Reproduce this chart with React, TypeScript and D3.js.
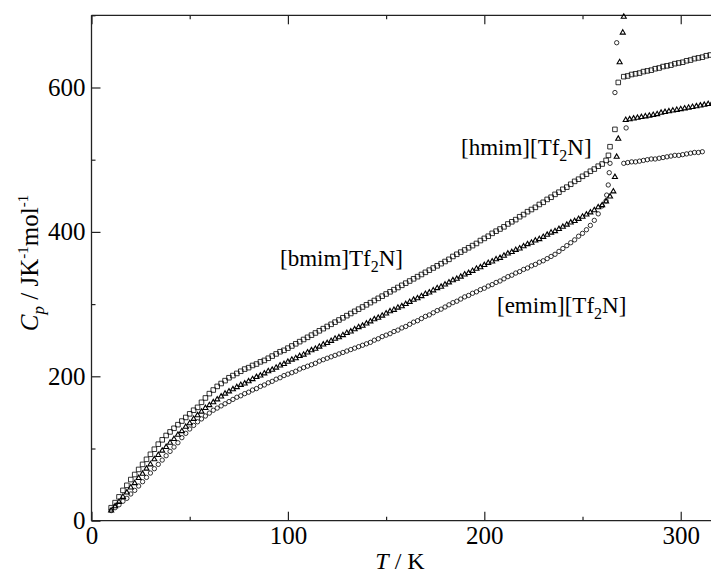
import React, { useEffect, useRef } from 'react';
import * as d3 from 'd3';

// Heat capacity of three imidazolium Tf2N ionic liquids.
// Temperatures (K) of the low-temperature points, shared by all three salts
const solidT = [
  10, 12, 14, 16, 18, 20, 22, 24, 26, 28, 30, 32, 34, 36, 38, 40, 42, 44, 46, 48,
  50, 52, 54, 56, 58, 60, 62, 64, 66, 68, 70, 72, 74, 76, 78, 80, 82, 84, 86, 88,
  90, 92, 94, 96, 98, 100, 102, 104, 106, 108, 110, 112, 114, 116, 118, 120, 122, 124, 126, 128,
  130, 132, 134, 136, 138, 140, 142, 144, 146, 148, 150, 152, 154, 156, 158, 160, 162, 164, 166, 168,
  170, 172, 174, 176, 178, 180, 182, 184, 186, 188, 190, 192, 194, 196, 198, 200, 202, 204, 206, 208,
  210, 212, 214, 216, 218, 220, 222, 224, 226, 228, 230, 232, 234, 236, 238, 240, 242, 244, 246, 248,
  250, 252, 254, 256, 258, 260, 262,
];

// Cp / J K-1 mol-1 at solidT
const hmimSolid = [
  18, 25, 33, 42, 49, 57, 64, 71, 78, 85, 92, 99, 106, 112, 118, 123, 128, 133, 138, 143,
  148, 153, 157, 164, 170, 176, 181, 186, 190, 194, 198, 201, 204, 207, 210, 212, 215, 217, 220, 222,
  225, 228, 231, 234, 236, 239, 242, 245, 248, 251, 254, 257, 260, 263, 266, 269, 272, 275, 278, 281,
  284, 287, 290, 293, 296, 299, 302, 305, 308, 311, 314, 317, 320, 323, 326, 329, 332, 335, 338, 341,
  344, 347, 350, 353, 356, 359, 362, 366, 369, 372, 375, 378, 381, 384, 388, 391, 394, 398, 401, 404,
  407, 411, 414, 417, 421, 424, 428, 431, 434, 438, 441, 445, 448, 452, 455, 459, 462, 466, 470, 473,
  477, 480, 484, 487, 491, 494, 499,
];
const bmimSolid = [
  14, 20, 26, 33, 39, 46, 52, 59, 65, 72, 78, 85, 91, 97, 102, 108, 113, 119, 124, 130,
  135, 141, 146, 151, 156, 160, 164, 168, 172, 176, 179, 182, 185, 188, 190, 193, 196, 199, 201, 204,
  207, 209, 212, 215, 217, 220, 223, 225, 228, 230, 233, 236, 238, 241, 244, 246, 249, 252, 254, 257,
  260, 262, 265, 268, 270, 273, 276, 279, 281, 284, 287, 290, 292, 295, 297, 300, 303, 306, 308, 311,
  314, 316, 319, 322, 324, 327, 330, 333, 335, 338, 341, 343, 346, 349, 351, 354, 357, 359, 362, 364,
  367, 370, 372, 375, 377, 380, 383, 385, 388, 390, 393, 396, 399, 401, 404, 407, 410, 413, 415, 418,
  421, 424, 427, 430, 434, 437, 442,
];
const emimSolid = [
  14, 18, 22, 27, 31, 37, 42, 48, 54, 60, 66, 72, 78, 84, 90, 96, 102, 108, 115, 121,
  127, 132, 137, 141, 145, 149, 153, 156, 159, 162, 165, 168, 171, 173, 176, 178, 181, 183, 186, 188,
  191, 193, 196, 198, 201, 203, 205, 207, 210, 212, 214, 216, 218, 221, 223, 225, 227, 229, 231, 233,
  235, 237, 239, 241, 243, 245, 247, 250, 252, 255, 257, 259, 262, 264, 267, 269, 272, 275, 277, 280,
  283, 285, 288, 291, 293, 296, 299, 302, 304, 307, 310, 312, 315, 317, 320, 322, 325, 327, 330, 332,
  335, 338, 340, 343, 345, 348, 350, 353, 355, 358, 360, 363, 366, 369, 373, 377, 381, 385, 389, 394,
  398, 403, 409, 416, 425, 436, 443,
];

// points through the melting peak
const hmimPeakT = [263.2, 264.0, 266.5, 268.2];
const hmimPeakCp = [506, 518, 542, 607];
const bmimPeakT = [264.0, 265.7, 266.5, 267.4, 268.2, 268.9, 270.5, 271.0];
const bmimPeakCp = [449, 456, 476, 504, 529, 635, 676, 698];
const emimPeakT = [262.3, 263.1, 263.6, 264.0, 266.5, 267.4, 272.2];
const emimPeakCp = [451, 465, 482, 495, 593, 662, 544];

// liquid
const hmimLiqT = [271, 273, 275, 277, 279, 281, 283, 285, 287, 289, 291, 293, 295, 297, 299, 301, 303, 305, 307, 309, 311, 313, 315, 317];
const hmimLiqCp = [615, 616, 618, 619, 620, 622, 623, 624, 626, 627, 629, 630, 631, 633, 634, 635, 637, 638, 640, 641, 642, 644, 645, 646];
const bmimLiqT = [272, 274, 276, 278, 280, 282, 284, 286, 288, 290, 292, 294, 296, 298, 300, 302, 304, 306, 308, 310, 312, 314, 316];
const bmimLiqCp = [555, 556, 557, 558, 559, 560, 561, 562, 563, 565, 566, 567, 568, 569, 570, 571, 572, 573, 574, 575, 576, 577, 578];
const emimLiqT = [271, 273, 275, 277, 279, 281, 283, 285, 287, 289, 291, 293, 295, 297, 299, 301, 303, 305, 307, 309, 311];
const emimLiqCp = [495, 496, 497, 497, 498, 499, 500, 501, 501, 502, 503, 504, 505, 506, 506, 507, 508, 509, 510, 510, 511];

const xMajor = [0, 100, 200, 300];
const xMinor = [50, 150, 250];
const yMajor = [0, 200, 400, 600];
const yMinor = [100, 300, 500, 700];

const FONT = '"Liberation Serif", "Times New Roman", serif';

const pts = (ts: number[], cps: number[]) => ts.map((t, i) => [t, cps[i]]);

const series = [
  {
    key: 'hmim',
    symbol: d3.symbolSquare,
    size: 21,
    stroke: 0.8,
    points: [...pts(solidT, hmimSolid), ...pts(hmimPeakT, hmimPeakCp), ...pts(hmimLiqT, hmimLiqCp)],
  },
  {
    key: 'bmim',
    symbol: d3.symbolTriangle,
    size: 11,
    stroke: 1.1,
    points: [...pts(solidT, bmimSolid), ...pts(bmimPeakT, bmimPeakCp), ...pts(bmimLiqT, bmimLiqCp)],
  },
  {
    key: 'emim',
    symbol: d3.symbolCircle,
    size: 15,
    stroke: 0.8,
    points: [...pts(solidT, emimSolid), ...pts(emimPeakT, emimPeakCp), ...pts(emimLiqT, emimLiqCp)],
  },
];

const App = () => {
  const svgRef = useRef<SVGSVGElement>(null);
  const width = 711;
  const height = 575;

  useEffect(() => {
    const svg = d3.select(svgRef.current);
    svg.selectAll('*').remove();

    const x = d3.scaleLinear().domain([0, 320]).range([91.5, 720]);
    const y = d3.scaleLinear().domain([0, 700]).range([520.7, 15.3]);

    const g = svg.append('g');

    // frame
    const frame = g.append('g').attr('stroke', '#222').attr('stroke-width', 1.3);
    frame.append('line').attr('x1', x(0)).attr('x2', x(0)).attr('y1', y(0)).attr('y2', y(700));
    frame.append('line').attr('x1', x(0)).attr('x2', x(320)).attr('y1', y(0)).attr('y2', y(0));
    frame.append('line').attr('x1', x(0)).attr('x2', x(320)).attr('y1', y(700)).attr('y2', y(700));

    const styleAxis = (sel: any) => {
      sel.select('.domain').remove();
      sel.selectAll('line').attr('stroke', '#222').attr('stroke-width', 1.2);
      sel.selectAll('text').attr('fill', '#000').attr('font-family', FONT).attr('font-size', 25);
    };

    // bottom
    g.append('g')
      .attr('transform', `translate(0,${y(0)})`)
      .call(d3.axisBottom(x).tickValues(xMajor).tickSize(-9).tickPadding(6).tickFormat(d3.format('d')))
      .call(styleAxis);
    g.append('g')
      .attr('transform', `translate(0,${y(0)})`)
      .call(d3.axisBottom(x).tickValues(xMinor).tickSize(-4).tickFormat(() => ''))
      .call(styleAxis);
    // top
    g.append('g')
      .attr('transform', `translate(0,${y(700)})`)
      .call(d3.axisTop(x).tickValues(xMajor).tickSize(-9).tickFormat(() => ''))
      .call(styleAxis);
    g.append('g')
      .attr('transform', `translate(0,${y(700)})`)
      .call(d3.axisTop(x).tickValues(xMinor).tickSize(-4).tickFormat(() => ''))
      .call(styleAxis);
    // left
    g.append('g')
      .attr('transform', `translate(${x(0)},0)`)
      .call(d3.axisLeft(y).tickValues(yMajor).tickSize(-9).tickPadding(6).tickFormat(d3.format('d')))
      .call(styleAxis);
    g.append('g')
      .attr('transform', `translate(${x(0)},0)`)
      .call(d3.axisLeft(y).tickValues(yMinor).tickSize(-4).tickFormat(() => ''))
      .call(styleAxis);

    // markers
    series.forEach(s => {
      const path = d3.symbol().type(s.symbol).size(s.size)();
      g.append('g')
        .selectAll('path')
        .data(s.points)
        .enter()
        .append('path')
        .attr('d', path)
        .attr('transform', d => `translate(${x(d[0])},${y(d[1])})`)
        .attr('fill', 'none')
        .attr('stroke', '#000')
        .attr('stroke-width', s.stroke);
    });

    // series labels with subscript 2
    const label = (px: number, py: number, pre: string) => {
      const t = g.append('text')
        .attr('x', px).attr('y', py)
        .attr('font-family', FONT).attr('font-size', 23).attr('fill', '#000');
      t.append('tspan').text(pre);
      t.append('tspan').attr('font-size', 16).attr('dy', 6).text('2');
      t.append('tspan').attr('dy', -6).text('N]');
    };
    label(461, 155, '[hmim][Tf');
    label(280, 266, '[bmim]Tf');
    label(497, 313, '[emim][Tf');

    // x title
    const xt = g.append('text')
      .attr('x', 400).attr('y', 569)
      .attr('text-anchor', 'middle')
      .attr('font-family', FONT).attr('font-size', 24).attr('fill', '#000');
    xt.append('tspan').attr('font-style', 'italic').text('T');
    xt.append('tspan').text(' / K');

    // y title
    const yt = g.append('text')
      .attr('transform', 'translate(38,263) rotate(-90)')
      .attr('text-anchor', 'middle')
      .attr('font-family', FONT).attr('font-size', 25).attr('fill', '#000');
    yt.append('tspan').attr('font-style', 'italic').text('C');
    yt.append('tspan').attr('font-style', 'italic').attr('font-size', 17).attr('dy', 6).text('p');
    yt.append('tspan').attr('dy', -6).text(' / JK');
    yt.append('tspan').attr('font-size', 15).attr('dy', -10).text('-1');
    yt.append('tspan').attr('dy', 10).text('mol');
    yt.append('tspan').attr('font-size', 15).attr('dy', -10).text('-1');
  }, []);

  return (
    <svg
      ref={svgRef}
      width={width}
      height={height}
      style={{ position: 'absolute', left: 0, top: 0, background: '#fff' }}
    />
  );
};

export default App;
